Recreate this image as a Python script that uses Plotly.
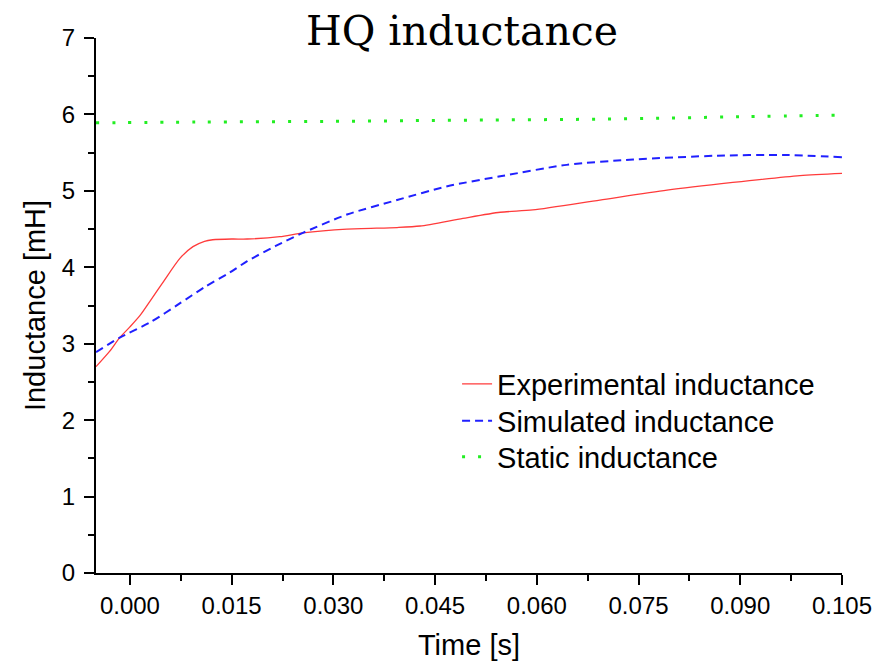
import plotly.graph_objects as go

# Experimental inductance
exp_t = [-0.005, -0.003, -0.0015, 0.000, 0.0015, 0.003, 0.005, 0.0074, 0.0093, 0.0110,
         0.0122, 0.0150, 0.0173, 0.0221, 0.0255, 0.032, 0.0394, 0.0428, 0.0491, 0.0546,
         0.0594, 0.0693, 0.0792, 0.0889, 0.0988, 0.105]
exp_L = [2.70, 2.90, 3.08, 3.22, 3.37, 3.56, 3.82, 4.12, 4.27, 4.34,
         4.36, 4.37, 4.37, 4.40, 4.45, 4.50, 4.52, 4.54, 4.64, 4.72,
         4.75, 4.88, 5.01, 5.11, 5.20, 5.23]

# Simulated inductance
sim_t = [-0.005, -0.0015, 0.003, 0.0074, 0.0110, 0.0147, 0.0173, 0.0215, 0.0255, 0.032,
         0.0394, 0.0468, 0.0546, 0.0644, 0.0742, 0.0866, 0.0963, 0.105]
sim_L = [2.89, 3.08, 3.28, 3.53, 3.74, 3.93, 4.08, 4.28, 4.45, 4.69,
         4.88, 5.06, 5.19, 5.34, 5.41, 5.46, 5.47, 5.44]

# Static inductance
sta_t = [-0.005, 0.010, 0.030, 0.050, 0.071, 0.090, 0.105]
sta_L = [5.89, 5.90, 5.91, 5.925, 5.94, 5.97, 5.99]

x_ticks = [0.000, 0.015, 0.030, 0.045, 0.060, 0.075, 0.090, 0.105]
y_ticks = [0, 1, 2, 3, 4, 5, 6, 7]

SANS = "Liberation Sans, Arial, sans-serif"

fig = go.Figure()
fig.add_trace(go.Scatter(x=exp_t, y=exp_L, mode="lines", name="Experimental inductance",
                         legend="legend",
                         line=dict(color="#ff3b3b", width=1.3, shape="spline", smoothing=0.7)))
fig.add_trace(go.Scatter(x=sim_t, y=sim_L, mode="lines", name="Simulated inductance",
                         legend="legend2",
                         line=dict(color="#2020ff", width=2, dash="8px,5px", shape="spline", smoothing=0.7)))
fig.add_trace(go.Scatter(x=sta_t, y=sta_L, mode="lines", name="Static inductance",
                         legend="legend3",
                         line=dict(color="#22ee22", width=3, dash="3px,13px", shape="spline")))

axis_common = dict(
    showline=True, linecolor="black", linewidth=2, showgrid=False, zeroline=False,
    ticks="outside", ticklen=10, tickwidth=2, tickcolor="black",
    tickfont=dict(family=SANS, size=24, color="black"),
    mirror=False,
)


def leg(py):
    return dict(x=0.484, y=(573 - py) / 535, xanchor="left", yanchor="middle",
                bgcolor="rgba(0,0,0,0)", borderwidth=0,
                font=dict(family=SANS, size=29, color="black"))


fig.update_layout(
    width=875, height=653,
    paper_bgcolor="white", plot_bgcolor="white",
    margin=dict(l=88, r=41, t=30, b=88, autoexpand=False),
    title=dict(text="HQ inductance", x=(462 - 8) / 875, xanchor="center",
               y=1 - (31 - 8) / 653, yanchor="middle",
               font=dict(family="DejaVu Serif, Georgia, serif", size=41, color="black")),
    xaxis=dict(
        range=[-0.005, 0.105], tickmode="array", tickvals=x_ticks,
        ticktext=[f"{v:.3f}" for v in x_ticks],
        title=dict(text="Time [s]", font=dict(family=SANS, size=29, color="black"), standoff=18),
        minor=dict(tickmode="linear", tick0=0.0075, dtick=0.015, ticks="outside", ticklen=6,
                   tickwidth=2, tickcolor="black"),
        **axis_common,
    ),
    yaxis=dict(
        range=[0, 7], tickmode="array", tickvals=y_ticks, ticklabelstandoff=4,
        title=dict(text="Inductance [mH]", font=dict(family=SANS, size=29, color="black"), standoff=8),
        minor=dict(tickmode="linear", tick0=0.5, dtick=1, ticks="outside", ticklen=6,
                   tickwidth=2, tickcolor="black"),
        **axis_common,
    ),
    legend=leg(384),
    legend2=leg(421),
    legend3=leg(457),
    showlegend=True,
)

fig.write_html("out.html")
